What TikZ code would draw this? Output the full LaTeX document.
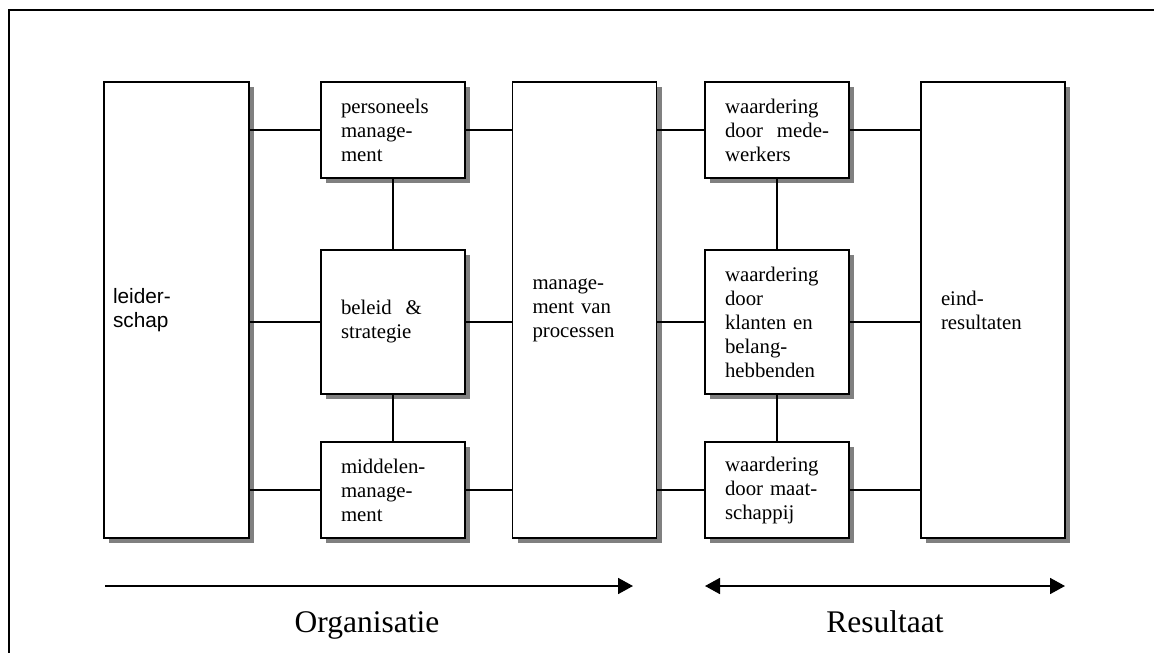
\documentclass[tikz,border=0pt]{standalone}
\usepackage{fontspec}
\setmainfont{Liberation Serif}
\newfontfamily\arialfont{Liberation Sans}
\usetikzlibrary{shadows,arrows.meta}

\tikzset{
  blok/.style={draw,line width=1.8pt,fill=white,rectangle,outer sep=0pt,
    text width=104pt,inner xsep=20pt,inner ysep=0pt,align=left,
    font=\fontsize{20.8}{24}\selectfont,
    drop shadow={shadow xshift=5pt,shadow yshift=-5pt,fill=black!50,opacity=1}},
  hoog/.style={blok,minimum height=456pt},
  midden/.style={blok,minimum height=144pt},
  laag/.style={blok,minimum height=96pt},
  lijn/.style={line width=1.8pt},
  pijl/.style={line width=1.8pt,-{Triangle[length=15pt,width=16pt]}},
  dubbelpijl/.style={line width=1.8pt,{Triangle[length=15pt,width=16pt]}-{Triangle[length=15pt,width=16pt]}},
  kop/.style={font=\fontsize{31.5}{36}\selectfont,anchor=base,inner sep=0pt}
}

\begin{document}
\begin{tikzpicture}[x=1pt,y=-1pt]
\useasboundingbox (0,0) rectangle (1154,653);
\draw[line width=2pt](9,660)--(9,10)--(1160,10);
% kolommen
\node[hoog,text width=127pt,inner xsep=9pt,font=\arialfont\fontsize{20.8}{24}\selectfont] (leider) at (176.5,310) {leider-\\schap};
\node[laag] (pers) at (393,130) {personeels\\manage-\\ment};
\node[midden] (beleid) at (393,322) {beleid \ \&\\strategie\\[12pt]};
\node[laag] (middel) at (393,490) {middelen-\\manage-\\ment};
\node[hoog] (proc) at (584.5,310) {manage-\\ment van\\processen};
\node[laag] (wmed) at (777,130) {waardering\\door \ mede-\\werkers};
\node[midden] (wklant) at (777,322) {waardering\\door\\klanten en\\belang-\\hebbenden};
\node[laag] (wmaat) at (777,490) {waardering\\door maat-\\schappij};
\node[hoog] (eind) at (993,310) {eind-\\resultaten};
% verbindingen
\foreach \a/\b in {pers/wmed,beleid/wklant,middel/wmaat}{
  \draw[lijn](leider.east |- \a.west)--(\a.west);
  \draw[lijn](\a.east)--(\a.east -| proc.west);
  \draw[lijn](proc.east |- \b.west)--(\b.west);
  \draw[lijn](\b.east)--(\b.east -| eind.west);
}
\draw[lijn](pers.south)--(beleid.north);
\draw[lijn](beleid.south)--(middel.north);
\draw[lijn](wmed.south)--(wklant.north);
\draw[lijn](wklant.south)--(wmaat.north);
% pijlen
\coordinate (orgL) at (105,586);
\coordinate (orgR) at (633,586);
\coordinate (resL) at (705,586);
\coordinate (resR) at (1065,586);
\draw[pijl](orgL)--(orgR);
\draw[dubbelpijl](resL)--(resR);
\node[kop] (org) at (367,632) {Organisatie};
\node[kop] (res) at (885,632) {Resultaat};
\end{tikzpicture}
\end{document}
